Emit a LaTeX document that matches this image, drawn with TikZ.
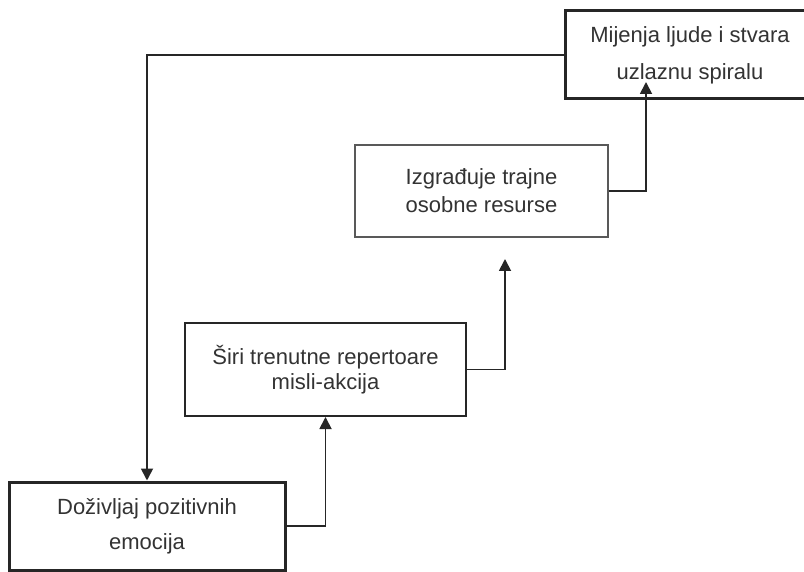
\documentclass[tikz,border=0pt]{standalone}
\usepackage{fontspec}
\setmainfont{Liberation Sans}
\usetikzlibrary{arrows.meta}
\begin{document}
\begin{tikzpicture}[x=1pt,y=-1pt,
  box/.style={draw=black!85, fill=white, inner sep=0pt, align=center, text=black!80},
  conn/.style={draw=black!85, line width=1.8pt, -{Triangle[width=12pt,length=12pt]}}]
\useasboundingbox (0,0) rectangle (804,572);
\node[box, line width=3pt, minimum width=250pt, minimum height=88pt,
      font=\fontsize{22}{37}\selectfont] (b1) at (690,55)
      {Mijenja ljude i stvara\\uzlaznu spiralu};
\node[box, line width=1.6pt, draw=black!65, minimum width=253pt, minimum height=92pt,
      font=\fontsize{22}{28}\selectfont] (b2) at (481.5,191)
      {Izgrađuje trajne\\osobne resurse};
\node[box, line width=2pt, minimum width=281pt, minimum height=93pt,
      font=\fontsize{22}{25}\selectfont] (b3) at (325.5,369.5)
      {Širi trenutne repertoare\\misli-akcija};
\node[box, line width=3pt, minimum width=276pt, minimum height=88pt,
      font=\fontsize{22}{35}\selectfont] (b4) at (147,526)
      {\raisebox{-4pt}{Doživljaj pozitivnih}\\\raisebox{-4pt}{emocija}};
\coordinate (t3) at (505,259);
\coordinate (t2) at (646,82);
\draw[conn] (b1.west) -| (b4.north);
\draw[conn] (b4.east) -| (b3.south);
\draw[conn] (b3.east) -| (t3);
\draw[conn] (b2.east) -| (t2);
\end{tikzpicture}
\end{document}
